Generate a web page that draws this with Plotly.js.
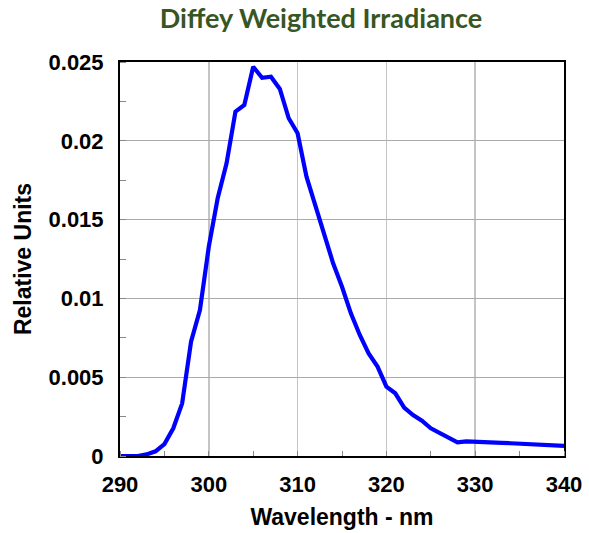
<!DOCTYPE html>
<html>
<head>
<meta charset="utf-8">
<script src="https://cdn.plot.ly/plotly-3.0.1.min.js"></script>
<style>html,body{margin:0;padding:0;background:#fff;}#chart{width:589px;height:533px;}</style>
</head>
<body>
<div id="chart"></div>
<script>
var wavelength = [290,291,292,293,294,295,296,297,298,299,300,301,302,303,304,305,306,307,308,309,310,311,312,313,314,315,316,317,318,319,320,321,322,323,324,325,326,327,328,329,330,331,332,333,334,335,336,337,338,339,340];
var relativeUnits = [0,0,0,0.0001,0.0003,0.00076,0.00176,0.00334,0.00725,0.00926,0.01328,0.01635,0.01857,0.02185,0.02227,0.0247,0.0240,0.02407,0.02329,0.02143,0.02048,0.01772,0.01586,0.01402,0.01223,0.01074,0.00905,0.00768,0.00651,0.00567,0.0044,0.00398,0.00307,0.0026,0.00224,0.00176,0.00144,0.00116,0.00087,0.00093,0.00089,0.00087,0.00085,0.00083,0.00081,0.00079,0.00076,0.00073,0.0007,0.00067,0.00064];
var xTickVals = [290,300,310,320,330,340];
var yTickVals = [0,0.005,0.01,0.015,0.02,0.025];
var yTickText = ['0','0.005','0.01','0.015','0.02','0.025'];

var trace = {x: wavelength, y: relativeUnits, type:'scatter', mode:'lines',
  line:{color:'#0000ff', width:4.2}, hoverinfo:'skip'};

var tickFont = {family:'Liberation Sans, Arial, sans-serif', size:22, color:'#000', weight:'bold'};
var titleFont = {family:'Liberation Sans, Arial, sans-serif', size:23, color:'#000', weight:'bold'};
var layout = {
  width:589, height:533,
  margin:{l:120, r:25, t:62, b:77},
  paper_bgcolor:'#fff', plot_bgcolor:'#fff',
  showlegend:false,
  title:{text:'Diffey Weighted Irradiance', x:0.545, xanchor:'center', y:0.966, yanchor:'middle',
    font:{family:'Lato, Open Sans, sans-serif', size:27, color:'#375623', weight:'bold'}},
  xaxis:{range:[290,340], tickvals:xTickVals, ticktext:xTickVals.map(String), ticks:'', ticklabelstandoff:8,
    showgrid:true, gridcolor:'#c4c4c4', gridwidth:1.5, zeroline:false,
    showline:true, linecolor:'#000', linewidth:2, mirror:true,
    tickfont:tickFont,
    minor:{dtick:5, ticks:'inside', ticklen:5, tickcolor:'#888', showgrid:false},
    title:{text:'Wavelength - nm', font:titleFont, standoff:12}},
  yaxis:{range:[0,0.025], tickvals:yTickVals, ticktext:yTickText, ticks:'', ticklabelstandoff:10,
    showgrid:true, gridcolor:'#aaaaaa', gridwidth:1, zeroline:false,
    showline:true, linecolor:'#000', linewidth:2, mirror:true,
    tickfont:tickFont,
    minor:{dtick:0.0025, ticks:'inside', ticklen:6, tickcolor:'#888', showgrid:false},
    title:{text:'Relative Units', font:titleFont, standoff:10}}
};
Plotly.newPlot('chart',[trace],layout,{displayModeBar:false, staticPlot:true});
</script>
</body>
</html>
